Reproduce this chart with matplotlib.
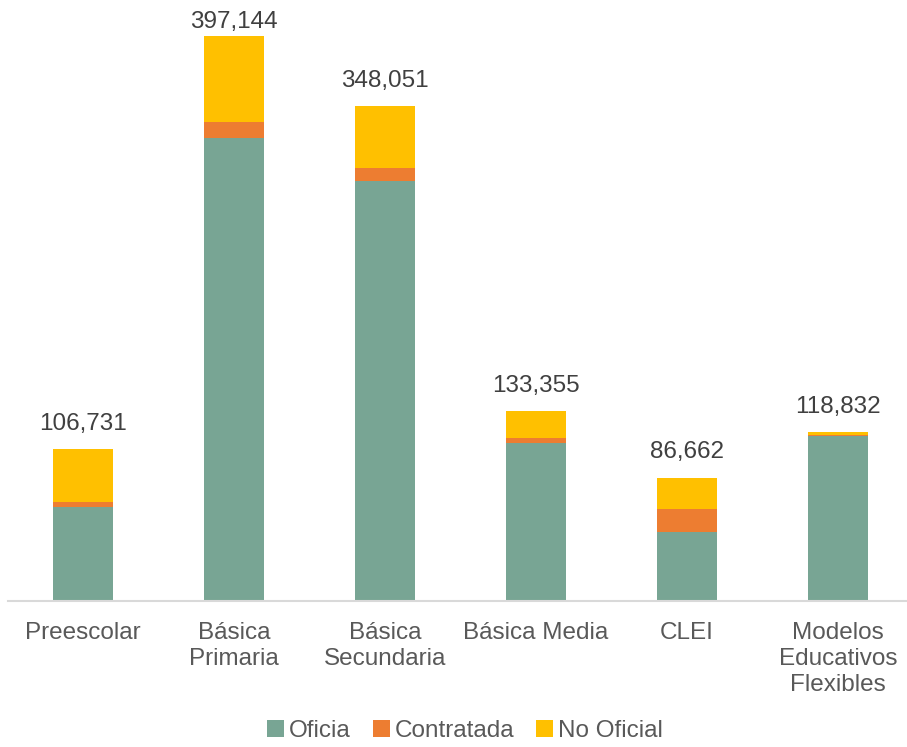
import matplotlib.pyplot as plt
import numpy as np

plt.rcParams['font.family'] = ['Liberation Sans', 'DejaVu Sans']

# Datos por nivel educativo
niveles = ['Preescolar', 'Básica\nPrimaria', 'Básica\nSecundaria', 'Básica Media',
           'CLEI', 'Modelos\nEducativos\nFlexibles']
oficial = [66370, 325700, 295300, 111100, 48600, 116230]
contratada = [3000, 10800, 9350, 3230, 15900, 300]
no_oficial = [37361, 60644, 43401, 19025, 22162, 2302]
totales = [106731, 397144, 348051, 133355, 86662, 118832]

c_ofi = '#78a594'
c_con = '#ed7d31'
c_nof = '#ffc000'

fig = plt.figure(figsize=(9.07, 7.47), dpi=100)
ax = fig.add_axes([0.0083, 0.1955, 0.999, 0.8045])

x = np.arange(len(niveles))
w = 0.4
ofi = np.array(oficial)
con = np.array(contratada)
nof = np.array(no_oficial)

ax.bar(x, ofi, w, color=c_ofi, label='Oficia')
ax.bar(x, con, w, bottom=ofi, color=c_con, label='Contratada')
ax.bar(x, nof, w, bottom=ofi + con, color=c_nof, label='No Oficial')

ymax = 422400
# etiquetas de total sobre cada barra (limitadas al borde superior)
for xi, t in zip(x, totales):
    y_lab = min(t + 13500, ymax * 0.953)
    ax.text(xi, y_lab, f'{t:,}', ha='center', va='baseline',
            fontsize=17.5, color='#404040')

ax.set_xlim(-0.5, len(niveles) - 0.5)
ax.set_ylim(0, ymax)
ax.set_xticks(x)
ax.set_xticklabels(niveles, fontsize=17.5, color='#595959', linespacing=1.25)
ax.tick_params(axis='x', length=0, pad=15)
ax.set_yticks([])
for s in ['top', 'right', 'left']:
    ax.spines[s].set_visible(False)
ax.spines['bottom'].set_color('#d9d9d9')
ax.spines['bottom'].set_linewidth(1.5)

leg = fig.legend(loc='lower center', bbox_to_anchor=(0.513, -0.022), ncol=3,
                 frameon=False, fontsize=17.5, handlelength=0.7, handleheight=0.7,
                 handletextpad=0.2, columnspacing=0.9)
for t in leg.get_texts():
    t.set_color('#595959')

fig.savefig('out.png', dpi=100)
